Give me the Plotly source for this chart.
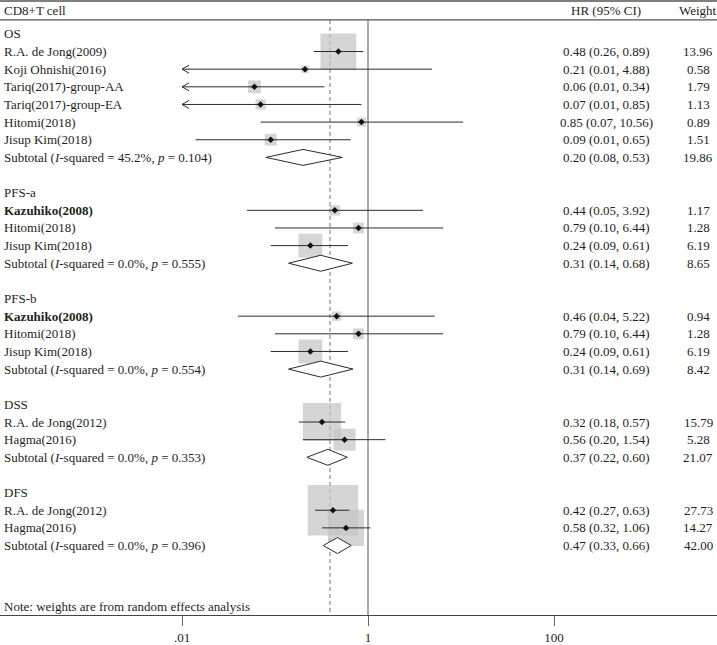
import math
import plotly.graph_objects as go

# ---------------- data ----------------
groups = ["OS", "PFS-a", "PFS-b", "DSS", "DFS"]

study_labels = ["R.A. de Jong(2009)", "Koji Ohnishi(2016)", "Tariq(2017)-group-AA",
                "Tariq(2017)-group-EA", "Hitomi(2018)", "Jisup Kim(2018)",
                "Kazuhiko(2008)", "Hitomi(2018)", "Jisup Kim(2018)",
                "Kazuhiko(2008)", "Hitomi(2018)", "Jisup Kim(2018)",
                "R.A. de Jong(2012)", "Hagma(2016)",
                "R.A. de Jong(2012)", "Hagma(2016)"]
study_group = ["OS"] * 6 + ["PFS-a"] * 3 + ["PFS-b"] * 3 + ["DSS"] * 2 + ["DFS"] * 2
study_bold = [False] * 6 + [True, False, False] + [True, False, False] + [False] * 4
study_hr = [0.48, 0.21, 0.06, 0.07, 0.85, 0.09, 0.44, 0.79, 0.24, 0.46, 0.79, 0.24,
            0.32, 0.56, 0.42, 0.58]
study_lo = [0.26, 0.009, 0.008, 0.006, 0.07, 0.014, 0.05, 0.10, 0.09, 0.04, 0.10, 0.09,
            0.18, 0.20, 0.27, 0.32]
study_hi = [0.89, 4.88, 0.34, 0.85, 10.56, 0.65, 3.92, 6.44, 0.61, 5.22, 6.44, 0.61,
            0.57, 1.54, 0.63, 1.06]
study_weight = [13.96, 0.58, 1.79, 1.13, 0.89, 1.51, 1.17, 1.28, 6.19, 0.94, 1.28, 6.19,
                15.79, 5.28, 27.73, 14.27]

sub_hr = [0.20, 0.31, 0.31, 0.37, 0.47]
sub_lo = [0.08, 0.14, 0.14, 0.22, 0.33]
sub_hi = [0.53, 0.68, 0.69, 0.60, 0.66]
sub_weight = [19.86, 8.65, 8.42, 21.07, 42.00]
sub_i2 = ["45.2%", "0.0%", "0.0%", "0.0%", "0.0%"]
sub_p = ["0.104", "0.555", "0.554", "0.353", "0.396"]

overall_hr = 0.39
clip_lo = 0.01
tick_vals = [0.01, 1, 100]
tick_text = [".01", "1", "100"]

# ---------------- layout constants ----------------
W, H = 717, 645
PX_PER_ROW = 17.7
PLOT_H = 617
FIRST_ROW_PX = 34
decade_px = 93.0
x_min_log = -2 - 182 / decade_px
x_max_log = x_min_log + W / decade_px
y_top = -FIRST_ROW_PX / PX_PER_ROW
y_bot = (PLOT_H - FIRST_ROW_PX) / PX_PER_ROW

FONT = "Liberation Serif"
FS = 13
TXT = "#231f20"

# ---------------- build rows ----------------
row = 0
rows_text = []  # (row, label, hr_text, weight_text, bold)
sq_x, sq_y, sq_s = [], [], []
ci_x, ci_y = [], []
arr_x, arr_y = [], []
pt_x, pt_y = [], []
dia_x, dia_y = [], []

def fmt(v):
    return f"{v:.2f}"

arrow_fac = 10 ** (7 / decade_px)
arrow_dy = 4 / PX_PER_ROW
dia_h = 8 / PX_PER_ROW

for gi, g in enumerate(groups):
    rows_text.append((row, g, "", "", False))
    row += 1
    for i, sg in enumerate(study_group):
        if sg != g:
            continue
        hr, lo, hi, w = study_hr[i], study_lo[i], study_hi[i], study_weight[i]
        rows_text.append((row, study_labels[i], f"{fmt(hr)} ({fmt(lo)}, {fmt(hi)})",
                          fmt(w), study_bold[i]))
        sq_x.append(hr); sq_y.append(row); sq_s.append(9.6 * math.sqrt(w))
        start = max(lo, clip_lo)
        ci_x += [start, hi, None]; ci_y += [row, row, None]
        if lo < clip_lo:
            arr_x += [clip_lo * arrow_fac, clip_lo, clip_lo * arrow_fac, None]
            arr_y += [row - arrow_dy, row, row + arrow_dy, None]
        pt_x.append(hr); pt_y.append(row)
        row += 1
    label = f"Subtotal (<i>I</i>-squared = {sub_i2[gi]}, <i>p</i> = {sub_p[gi]})"
    rows_text.append((row, label,
                      f"{fmt(sub_hr[gi])} ({fmt(sub_lo[gi])}, {fmt(sub_hi[gi])})",
                      fmt(sub_weight[gi]), False))
    dia_x += [sub_lo[gi], sub_hr[gi], sub_hi[gi], sub_hr[gi], sub_lo[gi], None]
    dia_y += [row, row - dia_h, row, row + dia_h, row, None]
    row += 2

fig = go.Figure()
fig.add_trace(go.Scatter(x=sq_x, y=sq_y, mode="markers",
                         marker=dict(symbol="square", size=sq_s, color="#c3c3c3",
                                     line=dict(width=0)),
                         hoverinfo="skip"))
fig.add_trace(go.Scatter(x=ci_x, y=ci_y, mode="lines",
                         line=dict(color="#2b2b2b", width=1), hoverinfo="skip"))
fig.add_trace(go.Scatter(x=arr_x, y=arr_y, mode="lines",
                         line=dict(color="#2b2b2b", width=1), hoverinfo="skip"))
fig.add_trace(go.Scatter(x=pt_x, y=pt_y, mode="markers",
                         marker=dict(symbol="diamond", size=5, color="#111"),
                         hoverinfo="skip"))
fig.add_trace(go.Scatter(x=dia_x, y=dia_y, mode="lines", fill="toself",
                         fillcolor="white", line=dict(color="#2b2b2b", width=1),
                         hoverinfo="skip"))

ann = []
def add_text(x, y, text, anchor, bold=False):
    if bold:
        text = f"<b>{text}</b>"
    ann.append(dict(x=x, y=y, xref="paper", yref="y", text=text, showarrow=False,
                    xanchor=anchor, yanchor="middle",
                    font=dict(family=FONT, size=FS, color=TXT)))

HR_X = 606 / W
WT_X = 698 / W
for r, lab, hrt, wt, b in rows_text:
    add_text(2 / W, r, lab, "left", b)
    if hrt:
        add_text(HR_X, r, hrt, "center")
        add_text(WT_X, r, wt, "center")

header_row = (11 - FIRST_ROW_PX) / PX_PER_ROW
add_text(2 / W, header_row, "CD8+T cell", "left")
add_text(HR_X, header_row, "HR (95% CI)", "center")
add_text(WT_X, header_row, "Weight", "center")
note_row = (608 - FIRST_ROW_PX) / PX_PER_ROW
add_text(2 / W, note_row, "Note: weights are from random effects analysis", "left")

top_line = (1 - FIRST_ROW_PX) / PX_PER_ROW
head_line = (20 - FIRST_ROW_PX) / PX_PER_ROW
shapes = [
    dict(type="line", xref="paper", yref="y", x0=0, x1=1, y0=top_line, y1=top_line,
         line=dict(color="#555", width=1.5)),
    dict(type="line", xref="paper", yref="y", x0=0, x1=1, y0=head_line, y1=head_line,
         line=dict(color="#555", width=1.2)),
    dict(type="line", xref="x", yref="y", x0=1, x1=1, y0=head_line, y1=y_bot,
         line=dict(color="#707070", width=1.2), layer="below"),
    dict(type="line", xref="x", yref="y", x0=overall_hr, x1=overall_hr,
         y0=head_line, y1=y_bot,
         line=dict(color="#707070", width=1, dash="4px,3px"), layer="below"),
]

fig.update_layout(
    width=W, height=H,
    margin=dict(l=0, r=0, t=0, b=H - PLOT_H),
    paper_bgcolor="white", plot_bgcolor="white",
    showlegend=False,
    annotations=ann, shapes=shapes,
    xaxis=dict(type="log", range=[x_min_log, x_max_log], showgrid=False,
               zeroline=False, showline=True, linecolor="#444", linewidth=1,
               ticks="outside", ticklen=10, tickcolor="#666", tickwidth=1.2,
               tickvals=tick_vals, ticktext=tick_text,
               tickfont=dict(family=FONT, size=FS, color=TXT)),
    yaxis=dict(range=[y_bot, y_top], visible=False, showgrid=False, zeroline=False),
)

fig.write_html("out.html", config={"displayModeBar": False},
               post_script="document.body.style.margin='0';")
